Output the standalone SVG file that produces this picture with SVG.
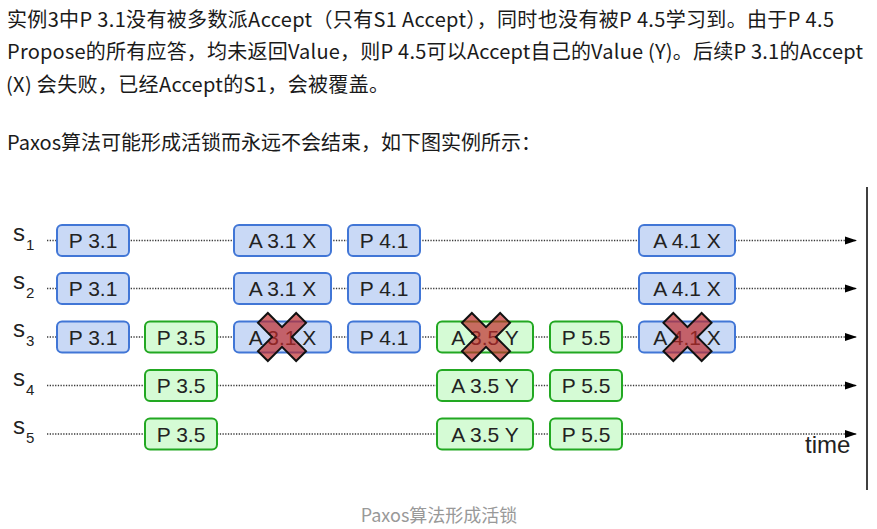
<svg xmlns="http://www.w3.org/2000/svg" width="877" height="529" viewBox="0 0 877 529">
<style>
.para{font-family:"Noto Sans CJK SC","Liberation Sans",sans-serif;font-size:20px;fill:#1a1a1a}
.cap{font-family:"Noto Sans CJK SC","Liberation Sans",sans-serif;font-size:18px;fill:#999;text-anchor:middle}
.b rect{fill:#c9d9f6;stroke:#4176d6;stroke-width:2}
.g rect{fill:#d5fbd5;stroke:#22a822;stroke-width:2}
.node text{font-family:"Liberation Sans",Arial,sans-serif;font-size:21px;fill:#222;text-anchor:middle}
.srv{font-family:"Liberation Sans",Arial,sans-serif;fill:#222;font-size:24px}
.tl{stroke:#3a3a3a;stroke-width:1.5;stroke-dasharray:1.3 1.4;fill:none}
.x{fill:#c02828;fill-opacity:0.68;stroke:#111;stroke-width:2;stroke-linejoin:miter}
</style>
<defs>
<marker id="arr" markerUnits="userSpaceOnUse" markerWidth="14" markerHeight="10" refX="12" refY="5" orient="auto"><path d="M0,1 L12,5 L0,9 Z" fill="#000"/></marker>
<path id="xm" d="M-7,-27 L7,-27 L7,-7 L27,-7 L27,7 L7,7 L7,27 L-7,27 L-7,7 L-27,7 L-27,-7 L-7,-7 Z"/>
</defs>
<rect width="877" height="529" fill="#fff"/>
<g id="intro">
<text class="para" x="7" y="27" textLength="827" lengthAdjust="spacing">实例3中P 3.1没有被多数派Accept（只有S1 Accept），同时也没有被P 4.5学习到。由于P 4.5</text>
<text class="para" x="7" y="59" textLength="856" lengthAdjust="spacing">Propose的所有应答，均未返回Value，则P 4.5可以Accept自己的Value (Y)。后续P 3.1的Accept</text>
<text class="para" x="6" y="92" textLength="383" lengthAdjust="spacing">(X) 会失败，已经Accept的S1，会被覆盖。</text>
<text class="para" x="7" y="150" textLength="534" lengthAdjust="spacing">Paxos算法可能形成活锁而永远不会结束，如下图实例所示：</text>
</g>
<line id="axis" x1="867" y1="187" x2="867" y2="490" stroke="#000" stroke-width="1.5"/>
<g id="connectors">
<line class="tl" x1="47" y1="240.5" x2="857" y2="240.5" marker-end="url(#arr)"/>
<line class="tl" x1="47" y1="288.5" x2="857" y2="288.5" marker-end="url(#arr)"/>
<line class="tl" x1="47" y1="337" x2="857" y2="337" marker-end="url(#arr)"/>
<line class="tl" x1="47" y1="385.5" x2="857" y2="385.5" marker-end="url(#arr)"/>
<line class="tl" x1="47" y1="434" x2="857" y2="434" marker-end="url(#arr)"/>
</g>
<g id="labels">
<text class="srv" x="13" y="240.5">s<tspan font-size="15" dx="1" dy="9">1</tspan></text>
<text class="srv" x="13" y="288.5">s<tspan font-size="15" dx="1" dy="9">2</tspan></text>
<text class="srv" x="13" y="337">s<tspan font-size="15" dx="1" dy="9">3</tspan></text>
<text class="srv" x="13" y="385.5">s<tspan font-size="15" dx="1" dy="9">4</tspan></text>
<text class="srv" x="13" y="434">s<tspan font-size="15" dx="1" dy="9">5</tspan></text>
<text class="srv" x="805" y="453" font-size="21">time</text>
</g>
<g id="s1-p31" class="node b"><rect x="57" y="225" width="72" height="31" rx="5"/><text x="93" y="248">P 3.1</text></g>
<g id="s1-a31" class="node b"><rect x="234" y="225" width="97" height="31" rx="5"/><text x="282.5" y="248">A 3.1 X</text></g>
<g id="s1-p41" class="node b"><rect x="348" y="225" width="72" height="31" rx="5"/><text x="384" y="248">P 4.1</text></g>
<g id="s1-a41" class="node b"><rect x="639" y="225" width="96" height="31" rx="5"/><text x="687" y="248">A 4.1 X</text></g>
<g id="s2-p31" class="node b"><rect x="57" y="273" width="72" height="31" rx="5"/><text x="93" y="296">P 3.1</text></g>
<g id="s2-a31" class="node b"><rect x="234" y="273" width="97" height="31" rx="5"/><text x="282.5" y="296">A 3.1 X</text></g>
<g id="s2-p41" class="node b"><rect x="348" y="273" width="72" height="31" rx="5"/><text x="384" y="296">P 4.1</text></g>
<g id="s2-a41" class="node b"><rect x="639" y="273" width="96" height="31" rx="5"/><text x="687" y="296">A 4.1 X</text></g>
<g id="s3-p31" class="node b"><rect x="57" y="321.5" width="72" height="31" rx="5"/><text x="93" y="344.5">P 3.1</text></g>
<g id="s3-p35" class="node g"><rect x="145" y="321.5" width="72" height="31" rx="5"/><text x="181" y="344.5">P 3.5</text></g>
<g id="s3-a31" class="node b"><rect x="234" y="321.5" width="97" height="31" rx="5"/><text x="282.5" y="344.5">A 3.1 X</text></g>
<g id="s3-p41" class="node b"><rect x="348" y="321.5" width="72" height="31" rx="5"/><text x="384" y="344.5">P 4.1</text></g>
<g id="s3-a35" class="node g"><rect x="437" y="321.5" width="96" height="31" rx="5"/><text x="485" y="344.5">A 3.5 Y</text></g>
<g id="s3-p55" class="node g"><rect x="550" y="321.5" width="72" height="31" rx="5"/><text x="586" y="344.5">P 5.5</text></g>
<g id="s3-a41" class="node b"><rect x="639" y="321.5" width="96" height="31" rx="5"/><text x="687" y="344.5">A 4.1 X</text></g>
<g id="s4-p35" class="node g"><rect x="145" y="370" width="72" height="31" rx="5"/><text x="181" y="393">P 3.5</text></g>
<g id="s4-a35" class="node g"><rect x="437" y="370" width="96" height="31" rx="5"/><text x="485" y="393">A 3.5 Y</text></g>
<g id="s4-p55" class="node g"><rect x="550" y="370" width="72" height="31" rx="5"/><text x="586" y="393">P 5.5</text></g>
<g id="s5-p35" class="node g"><rect x="145" y="418.5" width="72" height="31" rx="5"/><text x="181" y="441.5">P 3.5</text></g>
<g id="s5-a35" class="node g"><rect x="437" y="418.5" width="96" height="31" rx="5"/><text x="485" y="441.5">A 3.5 Y</text></g>
<g id="s5-p55" class="node g"><rect x="550" y="418.5" width="72" height="31" rx="5"/><text x="586" y="441.5">P 5.5</text></g>
<g id="rejections">
<use href="#xm" class="x" transform="translate(282 337) rotate(45)"/>
<use href="#xm" class="x" transform="translate(486 337) rotate(45)"/>
<use href="#xm" class="x" transform="translate(687.5 337) rotate(45)"/>
</g>
<text id="caption" class="cap" x="439" y="522">Paxos算法形成活锁</text>
</svg>
